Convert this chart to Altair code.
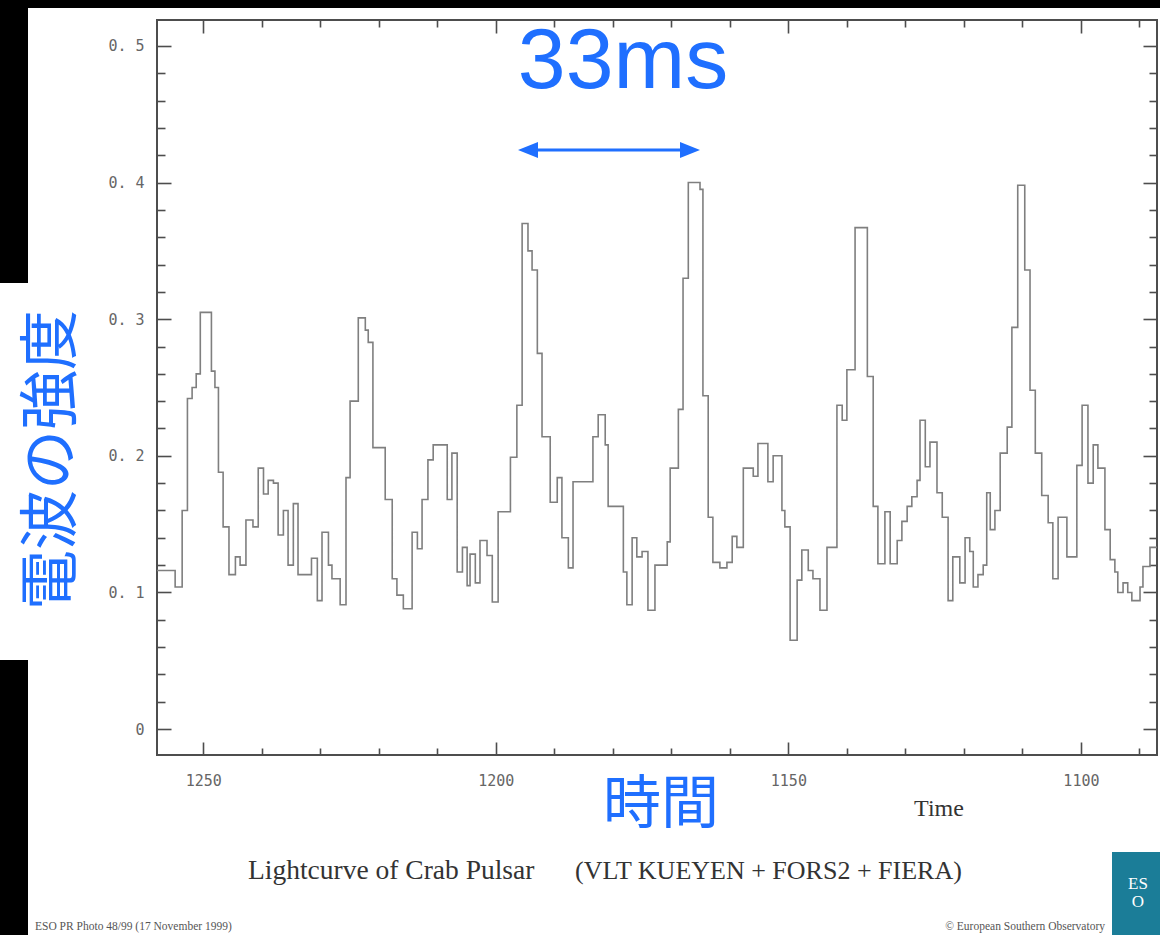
import altair as alt
import pandas as pd

# ---- data (step light curve, time runs right-to-left) ----
seg_start = [1257.9, 1254.8, 1253.6, 1252.7, 1251.9, 1251.2, 1250.5, 1248.6, 1248.0, 1247.4,
             1246.6, 1245.6, 1244.5, 1243.7, 1242.7, 1241.5, 1240.6, 1239.7, 1238.9, 1238.0,
             1237.2, 1236.3, 1235.5, 1234.6, 1233.8, 1231.5, 1230.5, 1229.7, 1228.6, 1228.0,
             1226.6, 1225.6, 1224.9, 1223.5, 1222.3, 1221.8, 1221.0, 1218.9, 1217.7, 1216.9,
             1215.8, 1214.3, 1213.4, 1212.6, 1211.6, 1210.7, 1208.3, 1207.5, 1206.6, 1205.7,
             1204.9, 1204.4, 1203.5, 1202.7, 1201.5, 1200.6, 1199.6, 1197.5, 1196.4, 1195.5,
             1194.5, 1193.8, 1192.9, 1192.1, 1190.7, 1189.5, 1188.7, 1187.6, 1186.8, 1183.4,
             1182.5, 1181.3, 1180.8, 1178.2, 1177.6, 1176.7, 1175.9, 1175.0, 1174.0, 1172.8,
             1170.7, 1170.2, 1168.8, 1168.0, 1167.1, 1165.1, 1164.6, 1163.7, 1162.9, 1161.7,
             1160.5, 1159.6, 1158.8, 1157.7, 1156.0, 1155.2, 1153.5, 1152.6, 1151.1, 1150.6,
             1149.7, 1148.5, 1147.7, 1146.6, 1145.8, 1144.6, 1143.4, 1141.7, 1140.8, 1140.0,
             1138.6, 1136.5, 1135.5, 1134.7, 1133.5, 1132.6, 1131.4, 1130.6, 1129.7, 1128.9,
             1128.0, 1127.5, 1126.6, 1125.8, 1124.6, 1123.7, 1122.7, 1121.9, 1120.7, 1119.8,
             1119.0, 1118.4, 1117.6, 1116.7, 1116.1, 1115.5, 1114.7, 1113.8, 1112.6, 1111.8,
             1110.8, 1109.6, 1108.7, 1107.8, 1106.7, 1105.6, 1104.8, 1103.9, 1102.4, 1100.7,
             1099.8, 1098.8, 1097.9, 1097.1, 1095.9, 1095.0, 1094.2, 1093.7, 1092.8, 1092.0,
             1091.3, 1089.9, 1089.4, 1088.2]
seg_end_last = 1087.0
seg_value = [0.116, 0.104, 0.16, 0.242, 0.25, 0.26, 0.305, 0.262, 0.25, 0.188,
             0.148, 0.113, 0.126, 0.12, 0.153, 0.148, 0.191, 0.172, 0.182, 0.18,
             0.142, 0.16, 0.12, 0.165, 0.113, 0.125, 0.094, 0.144, 0.12, 0.11,
             0.091, 0.184, 0.24, 0.301, 0.292, 0.283, 0.206, 0.168, 0.11, 0.098,
             0.088, 0.144, 0.132, 0.168, 0.197, 0.208, 0.168, 0.202, 0.115, 0.133,
             0.105, 0.128, 0.107, 0.138, 0.127, 0.093, 0.159, 0.199, 0.237, 0.37,
             0.35, 0.336, 0.275, 0.214, 0.166, 0.184, 0.14, 0.118, 0.181, 0.214,
             0.23, 0.208, 0.163, 0.115, 0.091, 0.14, 0.126, 0.13, 0.087, 0.12,
             0.137, 0.191, 0.234, 0.33, 0.40, 0.395, 0.244, 0.155, 0.122, 0.118,
             0.122, 0.141, 0.133, 0.191, 0.185, 0.209, 0.181, 0.2, 0.16, 0.148,
             0.065, 0.109, 0.131, 0.116, 0.11, 0.087, 0.133, 0.237, 0.226, 0.263,
             0.367, 0.258, 0.163, 0.121, 0.159, 0.121, 0.138, 0.152, 0.163, 0.17,
             0.182, 0.226, 0.192, 0.21, 0.173, 0.155, 0.094, 0.126, 0.107, 0.14,
             0.13, 0.104, 0.113, 0.12, 0.173, 0.146, 0.16, 0.202, 0.221, 0.294,
             0.398, 0.336, 0.248, 0.202, 0.171, 0.151, 0.11, 0.155, 0.126, 0.193,
             0.237, 0.18, 0.208, 0.191, 0.146, 0.124, 0.115, 0.1, 0.107, 0.1,
             0.094, 0.104, 0.119, 0.133]

x_domain = [1087.0, 1257.9]
y_domain = [-0.019, 0.519]
x_label_values = [1250, 1200, 1150, 1100]
x_tick_values = [1250, 1240, 1230, 1220, 1210, 1200, 1190, 1180, 1170, 1160,
                 1150, 1140, 1130, 1120, 1110, 1100, 1090]
y_label_values = [0, 0.1, 0.2, 0.3, 0.4, 0.5]
y_tick_values = [0, 0.02, 0.04, 0.06, 0.08, 0.1, 0.12, 0.14, 0.16, 0.18, 0.2,
                 0.22, 0.24, 0.26, 0.28, 0.3, 0.32, 0.34, 0.36, 0.38, 0.4,
                 0.42, 0.44, 0.46, 0.48, 0.5]

# ---- build step vertices ----
ends = seg_start[1:] + [seg_end_last]
rows = []
for i, (a, b, v) in enumerate(zip(seg_start, ends, seg_value)):
    rows.append({"t": a, "v": v, "o": 2 * i})
    rows.append({"t": b, "v": v, "o": 2 * i + 1})
df = pd.DataFrame(rows)

W, H = 1000, 735
AXC = "#4d4d4d"
BLUE = "#1f6fff"

xs = alt.Scale(domain=x_domain, reverse=True, nice=False, zero=False)
ys = alt.Scale(domain=y_domain, nice=False, zero=False)

base = alt.Chart(df)

line = base.mark_line(color="#7f7f7f", strokeWidth=1.6).encode(
    x=alt.X("t:Q", scale=xs, axis=alt.Axis(
        values=x_label_values, orient="bottom", ticks=False, tickSize=0, domain=False,
        grid=False, title=None, format="d", labelFont="DejaVu Sans Mono",
        labelFontSize=15, labelColor="#666666", labelPadding=18)),
    y=alt.Y("v:Q", scale=ys, axis=alt.Axis(
        values=y_label_values, orient="left", ticks=False, tickSize=0, domain=False,
        grid=False, title=None, labelFont="DejaVu Sans Mono", labelFontSize=15,
        labelColor="#666666", labelPadding=13,
        labelExpr="datum.value == 0 ? '0' : replace(format(datum.value, '.1f'), '.', '. ')")),
    order="o:Q",
)

x_tsize = {"condition": {"test": "datum.value % 50 == 0", "value": 13}, "value": 7}
y_tsize = {"condition": {"test": "abs(datum.value * 10 - round(datum.value * 10)) < 0.001",
                         "value": 14}, "value": 8}


def tick_layer(xorient, yorient):
    return base.mark_line(opacity=0).encode(
        x=alt.X("t:Q", scale=xs, axis=alt.Axis(
            values=x_tick_values, orient=xorient, offset=-H, labels=False, domain=False,
            grid=False, title=None, ticks=True, tickSize=x_tsize, tickColor=AXC,
            tickWidth=1.6)),
        y=alt.Y("v:Q", scale=ys, axis=alt.Axis(
            values=y_tick_values, orient=yorient, offset=-W, labels=False, domain=False,
            grid=False, title=None, ticks=True, tickSize=y_tsize, tickColor=AXC,
            tickWidth=1.6)),
        order="o:Q",
    )


ticks_in_a = tick_layer("top", "right")     # bottom & left edges, pointing inward
ticks_in_b = tick_layer("bottom", "left")   # top & right edges, pointing inward

one = alt.Data(values=[{}])


def txt(s, x, y, size, font, color, align="center", baseline="middle", angle=0, weight="normal"):
    kw = dict(text=s, fontSize=size, font=font, color=color, align=align,
              baseline=baseline, fontWeight=weight)
    if angle:
        kw["angle"] = angle
    return alt.Chart(one).mark_text(**kw).encode(x=alt.value(x), y=alt.value(y))


def rect(x1, x2, y1, y2, color):
    return alt.Chart(one).mark_rect(color=color).encode(
        x=alt.value(x1), x2=alt.value(x2), y=alt.value(y1), y2=alt.value(y2))


# decorative black borders of the photo
bands = [
    rect(-157, 1003, -20, -12, "black"),
    rect(-157, -129, -20, 263, "black"),
    rect(-157, -129, 640, 915, "black"),
]

texts = [
    txt("Time", 782, 789, 24, "Liberation Serif", "#333333"),
    txt("Lightcurve of Crab Pulsar", 91, 851, 27.5, "Liberation Serif", "#333333", align="left"),
    txt("(VLT KUEYEN + FORS2 + FIERA)", 418, 851, 26, "Liberation Serif", "#333333", align="left"),
    txt("ESO PR Photo 48/99 (17 November 1999)", -122, 907, 11.5, "Liberation Serif", "#555555", align="left"),
    txt("© European Southern Observatory", 948, 907, 11.5, "Liberation Serif", "#555555", align="right"),
]

logo = [
    rect(955, 1003, 832, 915, "#1b7d98"),
    alt.Chart(one).mark_text(text=["ES", "O"], fontSize=17, font="Liberation Serif",
                             color="white", align="center", baseline="middle",
                             lineHeight=18).encode(x=alt.value(981), y=alt.value(864)),
]

blue = [
    txt("33ms", 466, 42, 86, "Liberation Sans", BLUE),
    txt("時間", 504, 786, 58, "Noto Sans CJK JP", BLUE),
    txt("電波の強度", -104, 440, 60, "Noto Sans CJK JP", BLUE, angle=270),
    alt.Chart(one).mark_rule(color=BLUE, strokeWidth=3).encode(
        x=alt.value(375), x2=alt.value(530), y=alt.value(130)),
    alt.Chart(one).mark_point(shape="M -1 0 L 1 -0.8 L 1 0.8 Z", filled=True, color=BLUE,
                              opacity=1, size=400).encode(x=alt.value(371), y=alt.value(130)),
    alt.Chart(one).mark_point(shape="M 1 0 L -1 -0.8 L -1 0.8 Z", filled=True, color=BLUE,
                              opacity=1, size=400).encode(x=alt.value(533), y=alt.value(130)),
]

chart = alt.layer(
    line, ticks_in_a, ticks_in_b, *bands, *texts, *logo, *blue
).resolve_axis(x="independent", y="independent").properties(
    width=W, height=H,
    padding={"left": 157, "top": 20, "right": 3, "bottom": 180},
    autosize="none",
    background="white",
).configure_view(stroke=AXC, strokeWidth=2)

chart.save("out.html", embed_options={"renderer": "svg", "actions": False})
